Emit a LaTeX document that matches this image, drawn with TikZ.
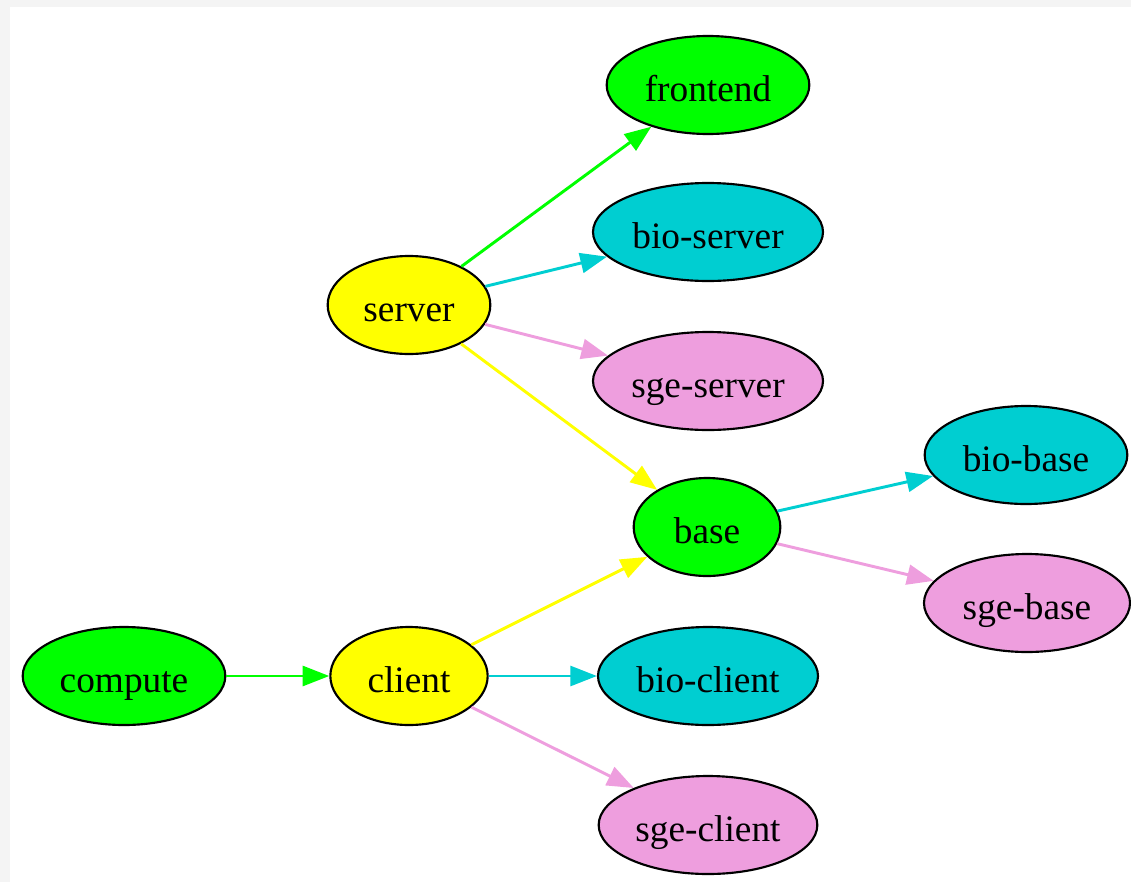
\documentclass[tikz,border=0pt]{standalone}
\usepackage{fontspec}
\setmainfont{Liberation Serif}
\usetikzlibrary{arrows.meta,shapes.geometric}

\definecolor{pkggreen}{RGB}{0,255,0}
\definecolor{pkgcyan}{RGB}{0,206,209}
\definecolor{pkgpink}{RGB}{238,158,222}
\definecolor{pkgyellow}{RGB}{255,255,0}
\definecolor{framegray}{RGB}{244,244,244}

\tikzset{every picture/.style={line width=0.75pt}}
\tikzset{
  pkg/.style={draw=black, line width=1.6pt, ellipse, inner sep=0pt, minimum height=73.5pt,
    text height=24pt, text depth=0pt, font=\fontsize{28}{33}\selectfont},
  dep/.style={line width=2.2pt, -{Triangle[length=20pt,width=15pt]}},
}

\begin{document}
\begin{tikzpicture}[x=0.75pt,y=0.75pt,yscale=-1,xscale=1]
%set diagram left start at 0, and has height of 882
\useasboundingbox (0,0) rectangle (1131,882);

%Shape: Frame
\fill [framegray] (0,0) rectangle (1131,7);
\fill [framegray] (0,0) rectangle (10,882);

%Shape: Ellipse
\node [pkg, fill=pkggreen, minimum width=152pt] (frontend) at (708,85) {frontend};
\node [pkg, fill=pkgcyan, minimum width=172.5pt] (bioserver) at (708,232) {bio-server};
\node [pkg, fill=pkgpink, minimum width=172.5pt] (sgeserver) at (708,381) {sge-server};
\node [pkg, fill=pkgyellow, minimum width=122pt] (server) at (409,305) {server};
\node [pkg, fill=pkggreen, minimum width=110pt] (base) at (707,527) {base};
\node [pkg, fill=pkgcyan, minimum width=152pt] (biobase) at (1026,455) {bio-base};
\node [pkg, fill=pkgpink, minimum width=154.5pt] (sgebase) at (1027,603) {sge-base};
\node [pkg, fill=pkggreen, minimum width=152pt] (compute) at (124,676) {compute};
\node [pkg, fill=pkgyellow, minimum width=118pt] (client) at (409,676) {client};
\node [pkg, fill=pkgcyan, minimum width=165pt] (bioclient) at (708,676) {bio-client};
\node [pkg, fill=pkgpink, minimum width=164pt] (sgeclient) at (708,825) {sge-client};

%Straight Lines
\draw [dep, pkggreen] (server) -- (frontend);
\draw [dep, pkgcyan] (server) -- (bioserver);
\draw [dep, pkgpink] (server) -- (sgeserver);
\draw [dep, pkgyellow] (server) -- (base);
\draw [dep, pkgcyan] (base) -- (biobase);
\draw [dep, pkgpink] (base) -- (sgebase);
\draw [dep, pkggreen] (compute) -- (client);
\draw [dep, pkgyellow] (client) -- (base);
\draw [dep, pkgcyan] (client) -- (bioclient);
\draw [dep, pkgpink] (client) -- (sgeclient);

\end{tikzpicture}
\end{document}
